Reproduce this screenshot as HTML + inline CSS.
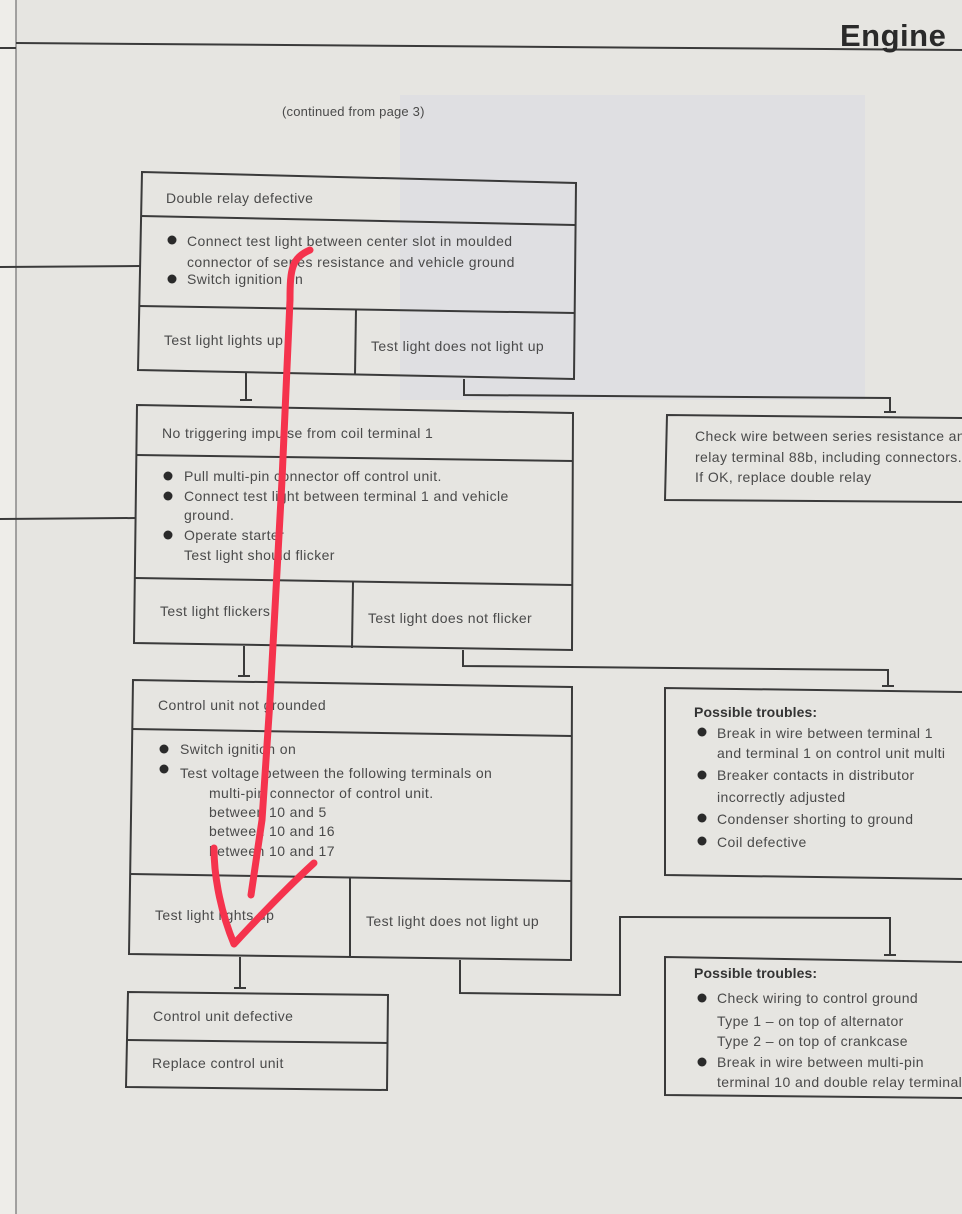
<!DOCTYPE html>
<html><head><meta charset="utf-8"><style>
html,body{margin:0;padding:0;background:#e6e5e1;}
svg{display:block}
text{font-family:"Liberation Sans",sans-serif;fill:#4a4a4a;font-size:14px;letter-spacing:0.4px}
.b{fill:#333;font-weight:bold;letter-spacing:0.1px}
</style></head><body>
<svg width="962" height="1214" viewBox="0 0 962 1214" xmlns="http://www.w3.org/2000/svg">
<rect width="962" height="1214" fill="#e6e5e1"/>
<rect x="0" y="0" width="16" height="1214" fill="#eeede9"/>
<rect x="400" y="95" width="465" height="305" fill="#dfdfe2"/>
<g stroke="#3a3a3a" stroke-width="2" fill="none">
<line x1="16" y1="0" x2="16" y2="1214" stroke-width="1.5" stroke="#888"/>
<line x1="0" y1="48" x2="16" y2="48"/>
<line x1="16" y1="43" x2="962" y2="50"/>
<line x1="0" y1="267" x2="140" y2="266"/>
<line x1="0" y1="519" x2="136" y2="518"/>
<polygon points="142,172 576,183 574,379 138,370"/>
<line x1="141" y1="216" x2="575" y2="225"/>
<line x1="139" y1="306" x2="575" y2="313"/>
<line x1="356" y1="309" x2="355" y2="375"/>
<polygon points="137,405 573,413 572,650 134,643"/>
<line x1="136" y1="455" x2="573" y2="461"/>
<line x1="135" y1="578" x2="572" y2="585"/>
<line x1="353" y1="582" x2="352" y2="648"/>
<polygon points="133,680 572,687 571,960 129,954"/>
<line x1="132" y1="729" x2="572" y2="736"/>
<line x1="131" y1="874" x2="571" y2="881"/>
<line x1="350" y1="877" x2="350" y2="957"/>
<polygon points="128,992 388,995 387,1090 126,1087"/>
<line x1="127" y1="1040" x2="388" y2="1043"/>
<polyline points="962,418 667,415 665,500 962,502"/>
<polyline points="962,692 665,688 665,875 962,879"/>
<polyline points="962,962 665,957 665,1095 962,1098"/>
<line x1="246" y1="372" x2="246" y2="400"/>
<polyline points="464,379 464,395 890,398 890,412"/>
<line x1="244" y1="646" x2="244" y2="676"/>
<polyline points="463,650 463,666 888,670 888,686"/>
<line x1="240" y1="957" x2="240" y2="988"/>
<polyline points="460,960 460,993 620,995 620,917 890,918 890,955"/>
</g>
<g stroke="#3a3a3a" stroke-width="2">
<line x1="240" y1="400" x2="252" y2="400"/><line x1="884" y1="412" x2="896" y2="412"/>
<line x1="238" y1="676" x2="250" y2="676"/><line x1="882" y1="686" x2="894" y2="686"/>
<line x1="234" y1="988" x2="246" y2="988"/><line x1="884" y1="955" x2="896" y2="955"/>
</g>
<text x="840" y="46" style="font-size:31px;font-weight:bold;fill:#2a2a2a;letter-spacing:0.5px">Engine</text>
<text x="282" y="116" style="font-size:13px;letter-spacing:0.2px">(continued from page 3)</text>
<g fill="#2a2a2a">
<circle cx="172" cy="240" r="4.5"/><circle cx="172" cy="279" r="4.5"/>
<circle cx="168" cy="476" r="4.5"/><circle cx="168" cy="496" r="4.5"/><circle cx="168" cy="535" r="4.5"/>
<circle cx="164" cy="749" r="4.5"/><circle cx="164" cy="769" r="4.5"/>
<circle cx="702" cy="732" r="4.5"/><circle cx="702" cy="775" r="4.5"/><circle cx="702" cy="818" r="4.5"/><circle cx="702" cy="841" r="4.5"/>
<circle cx="702" cy="998" r="4.5"/><circle cx="702" cy="1062" r="4.5"/>
</g>
<text x="166" y="203">Double relay defective</text>
<text x="187" y="246">Connect test light between center slot in moulded</text>
<text x="187" y="267">connector of series resistance and vehicle ground</text>
<text x="187" y="284">Switch ignition on</text>
<text x="164" y="345">Test light lights up</text>
<text x="371" y="351">Test light does not light up</text>
<text x="162" y="438">No triggering impulse from coil terminal 1</text>
<text x="184" y="481">Pull multi-pin connector off control unit.</text>
<text x="184" y="501">Connect test light between terminal 1 and vehicle</text>
<text x="184" y="520">ground.</text>
<text x="184" y="540">Operate starter</text>
<text x="184" y="560">Test light should flicker</text>
<text x="160" y="616">Test light flickers</text>
<text x="368" y="623">Test light does not flicker</text>
<text x="158" y="710">Control unit not grounded</text>
<text x="180" y="754">Switch ignition on</text>
<text x="180" y="778">Test voltage between the following terminals on</text>
<text x="209" y="798">multi-pin connector of control unit.</text>
<text x="209" y="817">between 10 and  5</text>
<text x="209" y="836">between 10 and 16</text>
<text x="209" y="856">between 10 and 17</text>
<text x="155" y="920">Test light lights up</text>
<text x="366" y="926">Test light does not light up</text>
<text x="153" y="1021">Control unit defective</text>
<text x="152" y="1068">Replace control unit</text>
<text x="695" y="441">Check wire between series resistance and</text>
<text x="695" y="462">relay terminal 88b, including connectors.</text>
<text x="695" y="482">If OK, replace double relay</text>
<text x="694" y="717" class="b">Possible troubles:</text>
<text x="717" y="738">Break in wire between terminal 1</text>
<text x="717" y="758">and terminal 1 on control unit multi</text>
<text x="717" y="780">Breaker contacts in distributor</text>
<text x="717" y="802">incorrectly adjusted</text>
<text x="717" y="824">Condenser shorting to ground</text>
<text x="717" y="847">Coil defective</text>
<text x="694" y="978" class="b">Possible troubles:</text>
<text x="717" y="1003">Check wiring to control ground</text>
<text x="717" y="1026">Type 1 – on top of alternator</text>
<text x="717" y="1046">Type 2 – on top of crankcase</text>
<text x="717" y="1067">Break in wire between multi-pin</text>
<text x="717" y="1087">terminal 10 and double relay terminal</text>
<g stroke="#f5334d" stroke-width="7" fill="none" stroke-linecap="round" stroke-linejoin="round">
<path d="M310,250 C292,258 290,268 290,300 L282,480 L270,700 L262,820 L251,895"/>
<path d="M214,848 C214,880 222,915 234,944 C258,918 290,885 314,863"/>
</g>
</svg>
</body></html>
